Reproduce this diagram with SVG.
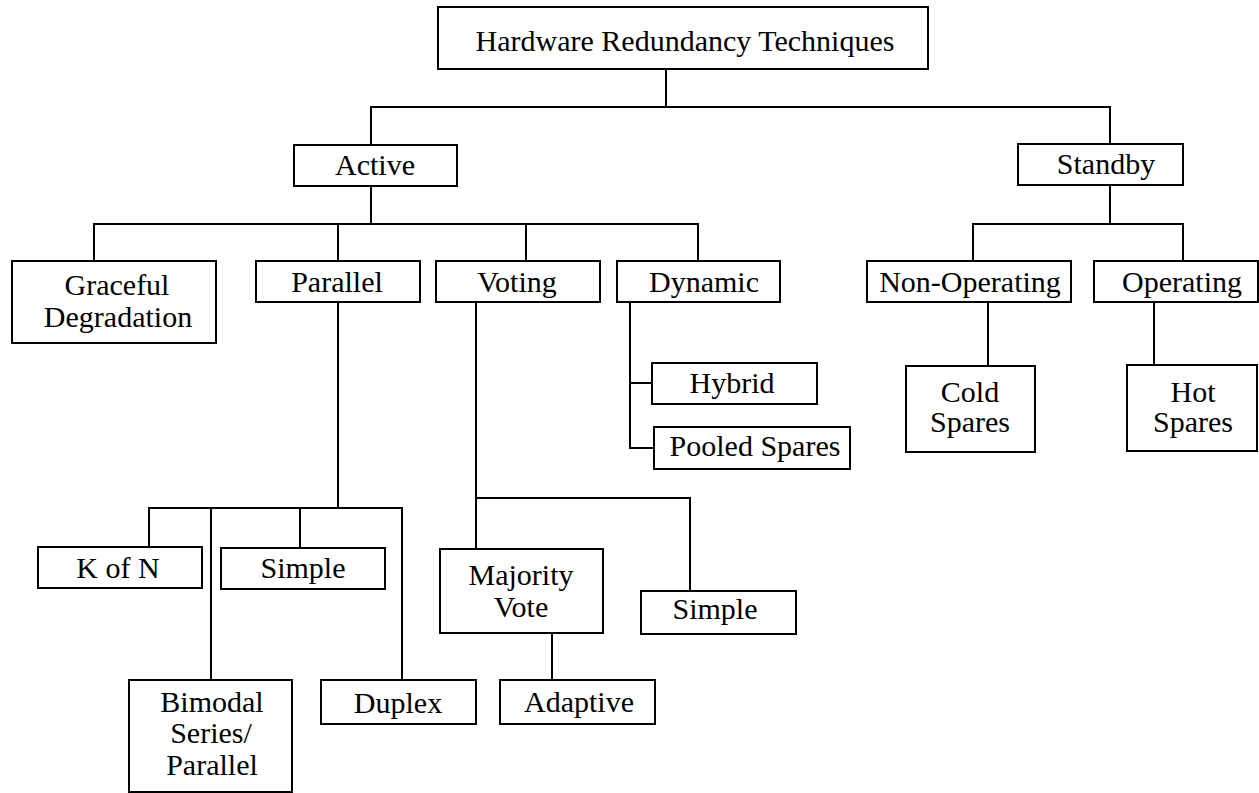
<svg xmlns="http://www.w3.org/2000/svg" width="1259" height="793" viewBox="0 0 1259 793">
<style>
.box{fill:#fff;stroke:#000;stroke-width:2}
.lbl{font-family:"Liberation Serif","Times New Roman",serif;font-size:30px;fill:#000;text-anchor:middle}
.conn{fill:none;stroke:#000;stroke-width:2}
</style>
<rect width="1259" height="793" fill="#fff"/>
<g id="connectors">
<path class="conn" d="M666 69 V107"/>
<path class="conn" d="M371 145 V107 H1110 V144"/>
<path class="conn" d="M371 186 V224"/>
<path class="conn" d="M94 261 V224 H698 V261"/>
<path class="conn" d="M338 224 V261"/>
<path class="conn" d="M526 224 V261"/>
<path class="conn" d="M1110 185 V224"/>
<path class="conn" d="M973 261 V224 H1183 V261"/>
<path class="conn" d="M988 302 V366"/>
<path class="conn" d="M1154 302 V365"/>
<path class="conn" d="M338 302 V508"/>
<path class="conn" d="M149 547 V508 H402 V680"/>
<path class="conn" d="M211 508 V680"/>
<path class="conn" d="M300 508 V548"/>
<path class="conn" d="M476 302 V549"/>
<path class="conn" d="M476 498 H690 V591"/>
<path class="conn" d="M552 633 V680"/>
<path class="conn" d="M630 302 V448 H654"/>
<path class="conn" d="M630 383 H652"/>
</g>
<g id="n-root"><rect class="box" x="438" y="7" width="490" height="62"/><text class="lbl" x="685" y="51">Hardware Redundancy Techniques</text></g>
<g id="n-active"><rect class="box" x="294" y="145" width="163" height="41"/><text class="lbl" x="375" y="175">Active</text></g>
<g id="n-standby"><rect class="box" x="1018" y="144" width="165" height="41"/><text class="lbl" x="1106" y="174">Standby</text></g>
<g id="n-graceful"><rect class="box" x="12" y="261" width="204" height="82"/><text class="lbl" x="117" y="295">Graceful</text><text class="lbl" x="118" y="327">Degradation</text></g>
<g id="n-parallel"><rect class="box" x="256" y="261" width="164" height="41"/><text class="lbl" x="337" y="292">Parallel</text></g>
<g id="n-voting"><rect class="box" x="436" y="261" width="164" height="41"/><text class="lbl" x="517" y="292">Voting</text></g>
<g id="n-dynamic"><rect class="box" x="617" y="261" width="163" height="41"/><text class="lbl" x="704" y="292">Dynamic</text></g>
<g id="n-hybrid"><rect class="box" x="652" y="363" width="165" height="41"/><text class="lbl" x="732" y="393">Hybrid</text></g>
<g id="n-pooled"><rect class="box" x="654" y="427" width="196" height="42"/><text class="lbl" x="755" y="456">Pooled Spares</text></g>
<g id="n-nonop"><rect class="box" x="867" y="261" width="204" height="41"/><text class="lbl" x="970" y="292">Non-Operating</text></g>
<g id="n-op"><rect class="box" x="1094" y="261" width="164" height="41"/><text class="lbl" x="1182" y="292">Operating</text></g>
<g id="n-cold"><rect class="box" x="906" y="366" width="129" height="86"/><text class="lbl" x="970" y="402">Cold</text><text class="lbl" x="970" y="432">Spares</text></g>
<g id="n-hot"><rect class="box" x="1127" y="365" width="130" height="86"/><text class="lbl" x="1193" y="402">Hot</text><text class="lbl" x="1193" y="432">Spares</text></g>
<g id="n-kofn"><rect class="box" x="38" y="547" width="164" height="41"/><text class="lbl" x="118" y="578">K of N</text></g>
<g id="n-simple1"><rect class="box" x="221" y="548" width="164" height="41"/><text class="lbl" x="303" y="578">Simple</text></g>
<g id="n-bimodal"><rect class="box" x="129" y="680" width="163" height="112"/><text class="lbl" x="212" y="712">Bimodal</text><text class="lbl" x="211" y="743">Series/</text><text class="lbl" x="212" y="775">Parallel</text></g>
<g id="n-duplex"><rect class="box" x="321" y="680" width="155" height="44"/><text class="lbl" x="398" y="713">Duplex</text></g>
<g id="n-majority"><rect class="box" x="440" y="549" width="163" height="84"/><text class="lbl" x="521" y="585">Majority</text><text class="lbl" x="521" y="617">Vote</text></g>
<g id="n-simple2"><rect class="box" x="641" y="591" width="155" height="43"/><text class="lbl" x="715" y="619">Simple</text></g>
<g id="n-adaptive"><rect class="box" x="500" y="680" width="155" height="44"/><text class="lbl" x="579" y="712">Adaptive</text></g>
</svg>
